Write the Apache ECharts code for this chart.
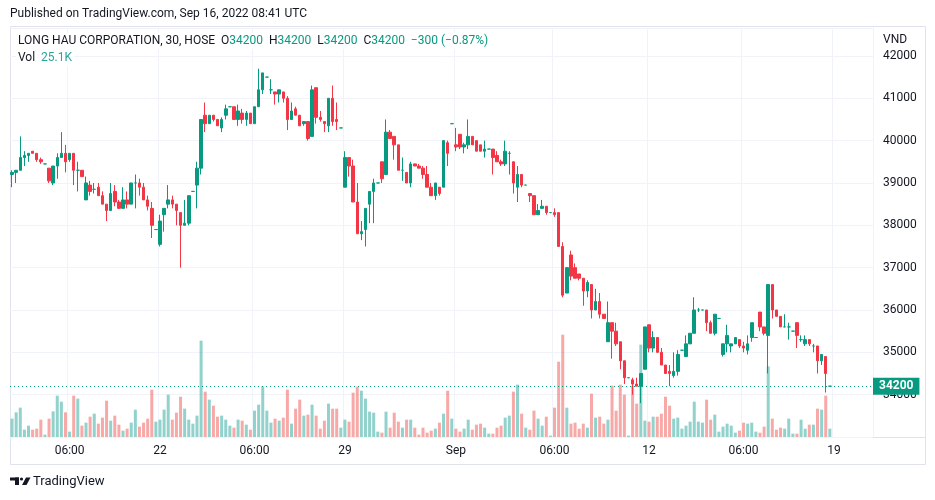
<!DOCTYPE html>
<html>
<head>
<meta charset="utf-8">
<script src="https://cdn.jsdelivr.net/npm/echarts@6/dist/echarts.min.js"></script>
<style>
  html, body { margin: 0; padding: 0; background: #fff; }
  #chart { width: 935px; height: 500px; }
</style>
</head>
<body>
<div id="chart"></div>
<script>
// LHG 30m bars, Aug 16 -> Sep 16 2022
const opens = [
  39200,39250,39300,39600,39650,39750,39700,39550,39450,39350,
  39000,39400,39600,39700,39550,39700,39300,39300,38600,38950,
  38850,38900,38700,38500,38350,38800,38550,38400,38600,38500,
  39000,39000,38900,38600,38400,37900,37550,38250,38500,38600,
  38500,38300,38000,38050,38800,38950,39350,40600,40400,40600,
  40500,40300,40600,40800,40800,40500,40650,40500,40650,40400,
  40800,41200,41500,41200,41150,41100,41150,41000,40500,40750,
  40600,40400,40450,40100,41250,40550,40450,40350,41000,40500,
  40300,38900,39600,39400,38550,37800,37900,38500,38800,39000,
  39500,39200,40200,40100,39900,39300,39250,39000,39450,39400,
  39350,39200,38900,38700,38900,38900,39950,40400,39900,40150,
  39850,39900,40100,40000,39900,39750,39800,39800,39650,39500,
  39450,39700,39500,38900,39200,38950,38750,38700,38250,38400,
  38450,38300,38300,38300,37500,36400,37300,37000,36850,36750,
  36450,36600,36000,36200,35900,35250,35700,35500,35250,34800,
  34400,34350,34250,34200,34600,35650,35100,35350,35000,34700,
  34550,34450,34550,35050,34900,35200,35450,36000,36000,36000,
  35700,35450,35800,34950,35200,35150,35200,35300,35150,35050,
  35350,35350,35950,35600,35400,36600,36000,35850,35600,35600,
  35500,35700,35300,35200,35300,35150,35150,34800,34900,34200
];
const closes = [
  39250,39300,39600,39650,39700,39700,39550,39500,39450,39050,
  39400,39600,39700,39500,39700,39300,39300,39150,39000,38800,
  38850,38700,38500,38350,38750,38550,38400,38600,38500,39000,
  39000,38900,38600,38450,38000,37900,38100,38400,38600,38500,
  38350,38000,38050,38700,38800,39350,40500,40400,40600,40500,
  40350,40500,40750,40800,40500,40700,40500,40650,40400,40800,
  41200,41600,41500,41200,41100,41200,41000,40500,40700,40600,
  40350,40450,40050,41200,40550,40500,40400,41000,40450,40450,
  40300,39600,39400,38550,37800,37850,38400,38800,39000,39000,
  39100,40200,40050,39900,39300,39300,39000,39450,39400,39350,
  39200,38900,38700,39000,38750,40000,39700,40400,39850,39850,
  39900,40100,39900,39750,39750,39800,39800,39600,39500,39450,
  39750,39700,39000,39200,38950,38950,38700,38250,38350,38450,
  38300,38300,38250,37500,36350,37000,36800,36750,36750,36450,
  36650,36000,36200,35900,35800,35700,35500,35200,34800,34400,
  34400,34250,34200,34500,35600,35100,35350,35000,34700,34500,
  34500,34550,34950,35050,35200,35450,36000,36000,36000,35700,
  35450,35900,35800,35200,35400,35200,35350,35150,35100,35200,
  35700,35350,35600,35450,36600,36000,35850,35600,35600,35600,
  35500,35400,35300,35300,35200,35150,34800,34950,34500,34200
];
const lows = [
  38900,39000,39300,39400,39500,39700,39500,39450,39450,39000,
  38950,39100,39600,39250,39500,38950,38800,39150,38600,38700,
  38750,38700,38500,38100,38350,38450,38400,38400,38400,38500,
  38400,38700,38600,38350,37700,37900,37500,37850,38400,38400,
  38000,37000,38000,38000,38800,38400,39200,40200,40400,40450,
  40350,40200,40500,40800,40500,40350,40400,40350,40400,40400,
  40800,41100,41500,41100,40850,40900,40900,40250,40500,40600,
  40350,40350,40000,40100,40400,40450,40200,40200,40350,40250,
  40300,38900,39150,38550,37800,37650,37500,38050,38050,39000,
  39000,39200,40050,39550,39300,39050,39000,38900,39400,39350,
  39100,38900,38700,38600,38700,38900,39400,40400,39750,39800,
  39700,39800,39900,39750,39750,39600,39800,39200,39500,39400,
  39400,39200,38750,38550,38900,38950,38550,38250,38250,38400,
  38250,38300,38200,37500,36300,36400,36700,36750,36700,36100,
  36300,35800,36000,35800,35800,35250,34850,35150,34600,34250,
  34400,34000,34200,33800,34600,35000,35000,35000,34700,34500,
  34200,34400,34450,35050,34900,35200,35450,35950,36000,35500,
  35450,35400,35800,34900,35000,35000,35200,35100,35000,34950,
  35250,35350,35500,35400,34500,35800,35850,35600,35600,35300,
  35500,35100,35250,35150,35150,35000,34500,34700,34050,34200
];
const highs = [
  39300,39300,40100,39750,39700,39750,39700,39600,39450,39350,
  39400,39700,40200,39900,39700,39700,39500,39300,39150,39050,
  39000,39000,38800,38500,39000,38950,38600,38900,38800,39000,
  39200,39100,39000,38700,38550,37900,38250,38400,38950,38700,
  38500,38300,38600,38700,38800,39500,40500,40900,40600,40600,
  40500,40550,40850,40800,40800,40850,40750,40700,40650,40800,
  41700,41600,41500,41450,41150,41200,41150,41050,40900,40800,
  40600,40450,40450,41300,41250,40700,40450,41000,41300,40900,
  40300,39750,39600,39550,39000,38100,38400,38800,39100,39000,
  39500,40500,40250,40100,39900,39600,39250,39500,39450,39450,
  39400,39400,39000,39000,38900,40000,40000,40400,40300,40150,
  39950,40500,40100,40000,39900,40000,39800,39800,39750,39550,
  40000,39750,39500,39400,39200,38950,38750,38700,38500,38600,
  38450,38300,38400,38300,37600,37000,37400,37100,36850,36750,
  36700,36600,36500,36400,35900,36200,35700,35700,35250,34800,
  34400,34400,34400,34500,35600,35650,35500,35350,35100,34700,
  34700,35000,35050,35050,35400,35450,36300,36050,36000,36000,
  35750,35900,35800,35200,35650,35200,35350,35300,35250,35400,
  35700,35350,35950,35600,36600,36600,36000,35850,35900,35700,
  35500,35700,35400,35400,35300,35200,35150,34950,34900,34200
];
const volumes = [ // thousands of shares
  55,74,88,22,34,22,25,52,7,55,
  77,124,106,74,16,124,115,34,43,61,
  70,40,58,109,49,64,37,19,25,43,
  82,31,43,55,142,46,52,82,127,52,
  73,121,85,52,40,64,289,136,112,94,
  61,64,52,34,28,52,49,37,22,79,
  97,152,79,43,55,49,58,142,40,85,
  112,64,67,97,64,25,49,100,85,85,
  28,52,46,133,151,139,115,76,73,16,
  13,76,28,73,46,28,52,52,28,7,
  28,13,19,25,43,70,139,55,25,16,
  25,52,22,37,40,28,10,10,28,34,
  58,64,136,157,70,28,22,79,55,34,
  61,4,88,226,307,88,40,43,25,40,
  28,130,58,61,40,52,154,79,157,127,
  4,154,100,277,49,46,61,61,70,121,
  94,55,58,25,34,46,106,46,43,112,
  52,67,16,31,40,34,13,19,43,40,
  43,16,13,31,212,55,22,28,25,55,
  10,10,52,25,37,37,85,82,124,25
];

// time axis: 210 slots (last ones are future bars), labels on a few of them
const slotCount = 210;
const categories = Array.from({ length: slotCount }, (_, i) => String(i));
const tickIndex = [14, 36, 59, 81, 108, 132, 155, 178, 200];
const tickText = ['06:00', '22', '06:00', '29', 'Sep', '06:00', '12', '06:00', '19'];

const lastPrice = 34200;
const lastVolume = 25.1;

const UP = '#089981';
const DOWN = '#f23645';
const VOL_UP = 'rgba(38,166,154,0.5)';
const VOL_DOWN = 'rgba(239,83,80,0.5)';
const GRID_LINE = '#f0f3fa';
const BORDER = '#e0e3eb';
const TEXT = '#131722';
const FONT = 'Roboto, "Noto Sans", sans-serif';

const isUp = opens.map((o, i) => closes[i] >= o);

const candleData = opens.map((o, i) => {
  const c = isUp[i] ? UP : DOWN;
  return {
    value: [o, closes[i], lows[i], highs[i]],
    itemStyle: { color: c, color0: c, borderColor: c, borderColor0: c }
  };
});
const volumeData = volumes.map((v, i) => ({
  value: v,
  itemStyle: { color: isUp[i] ? VOL_UP : VOL_DOWN }
}));

const chart = echarts.init(document.getElementById('chart'), null, { renderer: 'canvas' });

chart.setOption({
  animation: false,
  backgroundColor: '#fff',
  textStyle: { fontFamily: FONT },
  grid: [
    { left: 10, right: 62, top: 28, bottom: 63 },
    { left: 10, right: 62, top: 307, bottom: 63 }
  ],
  xAxis: [
    {
      type: 'category',
      gridIndex: 0,
      data: categories,
      boundaryGap: true,
      axisLine: { show: false },
      axisTick: { show: false },
      axisLabel: {
        interval: (i) => tickIndex.includes(i),
        formatter: (v, i) => {
          const k = tickIndex.indexOf(i);
          return k >= 0 ? tickText[k] : '';
        },
        color: TEXT,
        fontSize: 12,
        margin: 8
      },
      splitLine: {
        show: true,
        interval: (i) => tickIndex.includes(i),
        lineStyle: { color: GRID_LINE, width: 1 }
      }
    },
    {
      type: 'category',
      gridIndex: 1,
      data: categories,
      boundaryGap: true,
      show: false
    }
  ],
  yAxis: [
    {
      type: 'value',
      gridIndex: 0,
      position: 'right',
      min: 33000,
      max: 42660,
      interval: 1000,
      axisLine: { show: false },
      axisTick: { show: false },
      axisLabel: {
        color: TEXT,
        fontSize: 12,
        margin: 10,
        formatter: (v) => (v % 1000 === 0 && v > 33000 ? String(v) : '')
      },
      splitLine: { show: true, lineStyle: { color: GRID_LINE, width: 1 } }
    },
    {
      type: 'value',
      gridIndex: 1,
      min: 0,
      max: 390,
      show: false,
      splitLine: { show: false }
    }
  ],
  series: [
    {
      type: 'bar',
      name: 'Vol',
      xAxisIndex: 1,
      yAxisIndex: 1,
      data: volumeData,
      barWidth: 3,
      z: 1,
      markLine: {
        silent: true,
        symbol: 'none',
        lineStyle: { opacity: 0 },
        label: {
          show: true,
          position: 'end',
          distance: 0,
          formatter: lastVolume + 'K',
          backgroundColor: '#26a69a',
          color: '#fff',
          fontWeight: 'bold',
          fontSize: 12,
          padding: [3, 6, 2, 6]
        },
        data: [{ yAxis: lastVolume }]
      }
    },
    {
      type: 'candlestick',
      name: 'LHG',
      xAxisIndex: 0,
      yAxisIndex: 0,
      data: candleData,
      barWidth: 3,
      z: 3,
      itemStyle: { borderWidth: 1 },
      markLine: {
        silent: true,
        symbol: 'none',
        lineStyle: { color: UP, type: [1, 3], width: 1 },
        label: {
          show: true,
          position: 'end',
          distance: 0,
          formatter: String(lastPrice),
          backgroundColor: UP,
          color: '#fff',
          fontWeight: 'bold',
          fontSize: 12,
          padding: [3, 6, 2, 6]
        },
        data: [{ yAxis: lastPrice }]
      }
    }
  ],
  graphic: [
    {
      type: 'rect',
      shape: { x: 10.5, y: 26.5, width: 915, height: 438 },
      style: { fill: null, stroke: BORDER, lineWidth: 1 },
      silent: true
    },
    {
      type: 'line',
      shape: { x1: 10, y1: 437.5, x2: 925, y2: 437.5 },
      style: { stroke: BORDER, lineWidth: 1 },
      silent: true
    },
    {
      type: 'text',
      left: 10,
      top: 8,
      style: {
        text: 'Published on TradingView.com, Sep 16, 2022 08:41 UTC',
        fill: TEXT,
        font: '12px ' + FONT
      }
    },
    {
      type: 'text',
      left: 16,
      top: 33,
      z: 10,
      style: {
        text: '{n|LONG HAU CORPORATION, 30, HOSE}  {n|O}{v|34200}  {n|H}{v|34200}  {n|L}{v|34200}  {n|C}{v|34200}  {v|\u2212300 (\u22120.87%)}',
        font: '12px ' + FONT,
        backgroundColor: '#fff',
        padding: [2, 2],
        rich: {
          n: { fill: TEXT, font: '12px ' + FONT },
          v: { fill: UP, font: '12px ' + FONT }
        }
      }
    },
    {
      type: 'text',
      left: 16,
      top: 50,
      z: 10,
      style: {
        text: '{n|Vol}  {v|25.1K}',
        font: '12px ' + FONT,
        backgroundColor: '#fff',
        padding: [2, 2],
        rich: {
          n: { fill: TEXT, font: '12px ' + FONT },
          v: { fill: '#26a69a', font: '12px ' + FONT }
        }
      }
    },
    {
      type: 'text',
      left: 883,
      top: 34,
      style: { text: 'VND', fill: TEXT, font: '12px ' + FONT }
    },
    {
      type: 'group',
      silent: true,
      children: [
        { type: 'rect', shape: { x: 10, y: 477.5, width: 9, height: 3 }, style: { fill: TEXT } },
        { type: 'rect', shape: { x: 15, y: 477.5, width: 4, height: 7.5 }, style: { fill: TEXT } },
        { type: 'circle', shape: { cx: 21.5, cy: 479, r: 1.6 }, style: { fill: TEXT } },
        { type: 'polygon', shape: { points: [[26, 477.5], [30.5, 477.5], [26.5, 485], [22, 485]] }, style: { fill: TEXT } }
      ]
    },
    {
      type: 'text',
      left: 33,
      top: 475,
      style: { text: 'TradingView', fill: TEXT, font: '13px ' + FONT }
    }
  ]
});
</script>
</body>
</html>
